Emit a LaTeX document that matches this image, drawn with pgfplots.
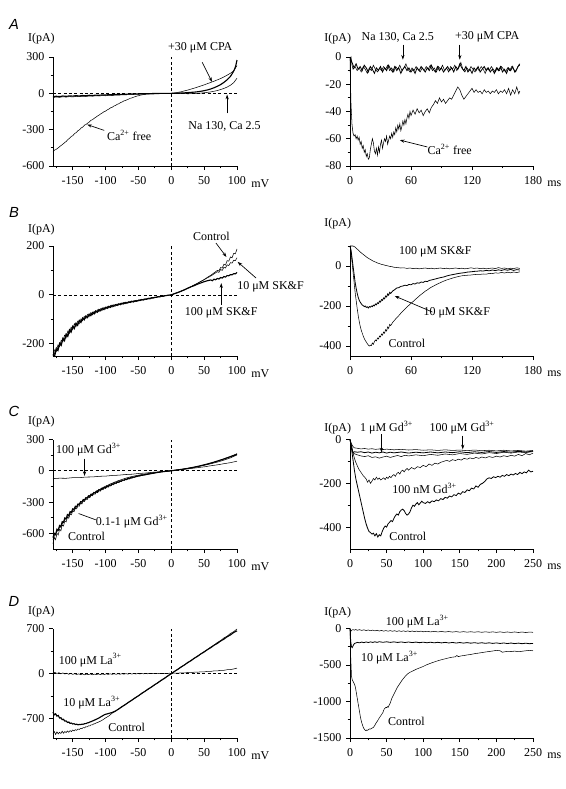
\documentclass[border=0pt]{standalone}
\usepackage{pgfplots}
\pgfplotsset{compat=1.18}
\usepackage{fontspec}
\setmainfont{Liberation Serif}
\newfontfamily\hv{Liberation Sans}
\usetikzlibrary{arrows.meta}
\newcommand\f{\fontsize{9}{10.5}\selectfont}
\pgfplotsset{
 panel/.style={
   scale only axis, anchor=south west,
   axis lines=left, axis line style={-, line width=0.7pt},
   tick align=outside, tick style={black, line width=0.7pt},
   major tick length=3pt, minor tick length=1.8pt,
   clip=false,
   tick label style={font=\f},
   /pgf/number format/assume math mode=true,
   /pgf/number format/1000 sep={},
   cycle list={{black, line width=0.6pt, mark=none}},
   xlabel style={at={(axis description cs:1,0)}, anchor=west, inner sep=0pt, xshift=10.5pt, yshift=-13pt, font=\f},
   xticklabel style={yshift=-1.5pt},
 },
 thick/.style={cycle list={{black, line width=0.85pt, mark=none}}},
 leftp/.style={panel, thick, width=138pt, xmin=-180, xmax=100, xtick={-150,-100,...,100}, minor xtick={-175,-125,...,75}, xlabel={mV}},
 rightp/.style={panel, width=137.25pt, xmin=0, xlabel={ms}},
 dsh/.style={black, line width=0.45pt, dash pattern=on 2.2pt off 1.8pt, mark=none},
}
\tikzset{arr/.style={-{Stealth[length=3.5pt,width=2.4pt]}, line width=0.5pt},
 lb/.style={font=\f, inner sep=0pt}}
\begin{document}
\begin{tikzpicture}
\path[use as bounding box] (0,0) rectangle (423.75pt,-591.75pt);
\node[font=\hv\itshape\fontsize{11}{12}\selectfont] at (10.5pt,-18pt) {A};
\node[font=\hv\itshape\fontsize{11}{12}\selectfont] at (10.5pt,-159pt) {B};
\node[font=\hv\itshape\fontsize{11}{12}\selectfont] at (10.5pt,-308.25pt) {C};
\node[font=\hv\itshape\fontsize{11}{12}\selectfont] at (10.5pt,-450.75pt) {D};

%% ---------------- A left
\begin{axis}[leftp, at={(39.75pt,-124.5pt)}, height=81.75pt, ymin=-600, ymax=300,
  ytick={-600,-300,0,300}, minor ytick={-450,-150,150}]
\addplot[dsh] coordinates {(-180,0)(100,0)};
\addplot[dsh] coordinates {(0,-600)(0,300)};
\addplot coordinates {(-180,-485)(-178,-470)(-175,-462)(-172,-450)(-170,-440)(-167,-428)(-165,-420)(-162,-405)(-160,-398)(-157,-380)(-155,-372)(-152,-355)(-150,-350)(-147,-332)(-145,-325)(-142,-308)(-140,-302)(-137,-285)(-135,-280)(-132,-262)(-130,-258)(-127,-245)(-125,-238)(-122,-222)(-120,-218)(-117,-205)(-115,-198)(-112,-186)(-110,-180)(-107,-168)(-105,-162)(-102,-150)(-100,-147)(-97,-135)(-95,-130)(-92,-118)(-90,-115)(-87,-104)(-85,-100)(-82,-90)(-80,-86)(-77,-76)(-75,-72)(-72,-62)(-70,-60)(-67,-52)(-65,-48)(-62,-40)(-60,-38)(-57,-31)(-55,-28)(-52,-22)(-50,-20)(-47,-15)(-45,-13)(-42,-10)(-40,-8)(-35,-6)(-30,-4)(-25,-3)(-20,-2)(-15,-2)(-10,-1)(-5,-1)(0,0)(5,3)(10,8)(15,13)(20,20)(25,27)(30,35)(35,43)(40,52)(45,61)(50,70)(55,80)(60,90)(65,100)(70,111)(75,122)(80,135)(85,150)(90,166)(95,185)(100,230)};
\addplot coordinates {(-180,-35)(-175,-30)(-170,-33)(-165,-28)(-160,-31)(-155,-27)(-150,-30)(-145,-25)(-140,-28)(-135,-24)(-130,-26)(-125,-22)(-120,-24)(-115,-20)(-110,-22)(-105,-18)(-100,-20)(-95,-16)(-90,-18)(-85,-14)(-80,-15)(-75,-12)(-70,-13)(-65,-10)(-60,-11)(-55,-8)(-50,-8)(-45,-6)(-40,-6)(-35,-4)(-30,-5)(-25,-3)(-20,-3)(-15,-2)(-10,-2)(-5,-1)(0,0)(5,-2)(10,0)(15,-3)(20,-1)(25,-4)(30,-2)(35,-3)(40,0)(45,2)(50,5)(55,8)(60,12)(65,17)(70,23)(75,31)(80,40)(85,52)(90,67)(95,88)(100,125)};
\addplot coordinates {(-180,-28)(-175,-24)(-170,-27)(-165,-22)(-160,-25)(-155,-21)(-150,-23)(-145,-19)(-140,-22)(-135,-18)(-130,-20)(-125,-16)(-120,-18)(-115,-15)(-110,-16)(-105,-13)(-100,-14)(-95,-11)(-90,-12)(-85,-10)(-80,-10)(-75,-8)(-70,-8)(-65,-6)(-60,-6)(-55,-4)(-50,-5)(-45,-3)(-40,-3)(-35,-2)(-30,-2)(-20,-1)(-10,0)(0,0)(5,1)(10,2)(15,3)(20,4)(25,6)(30,8)(35,10)(40,13)(45,17)(50,22)(55,28)(60,36)(65,46)(70,58)(75,72)(80,90)(85,112)(90,140)(93,165)(96,195)(98,225)(100,275)};
\node[lb] at (axis cs:44,374) {+30 μM CPA};
\draw[arr] (axis cs:47,256) -- (axis cs:62,95);
\node[lb] at (axis cs:81,-273) {Na 130, Ca 2.5};
\draw[arr] (axis cs:85,-165) -- (axis cs:85,-10);
\node[lb] at (axis cs:-64,-347) {Ca\textsuperscript{2+} free};
\draw[arr] (axis cs:-102,-306) -- (axis cs:-128,-258);
\node[lb, anchor=east] at ([xshift=1.5pt,yshift=13.5pt]rel axis cs:0,1) {I(pA)};
\end{axis}

%% ---------------- A right
\begin{axis}[rightp, at={(262.5pt,-124.5pt)}, height=81.75pt, xmax=180,
  xtick={0,60,120,180}, minor xtick={30,90,150},
  ymin=-80, ymax=0, ytick={-80,-60,...,0}, minor ytick={-70,-50,-30,-10}]
\addplot coordinates {(0,-2)(1,0)(2,-6)(3,-9)(5,-7)(7,-10)(9,-8)(11,-11)(13,-7)(15,-9)(17,-12)(19,-8)(21,-10)(23,-6)(25,-9)(27,-11)(29,-8)(31,-10)(33,-7)(35,-9)(37,-6)(39,-10)(41,-8)(43,-11)(45,-7)(47,-9)(49,-6)(51,-10)(53,-8)(55,-5)(57,-9)(59,-11)(61,-8)(63,-10)(65,-7)(67,-9)(69,-11)(71,-8)(73,-10)(75,-7)(77,-9)(79,-6)(81,-10)(83,-8)(85,-11)(87,-7)(89,-9)(91,-6)(93,-10)(95,-8)(97,-11)(99,-7)(101,-9)(103,-6)(105,-10)(107,-8)(109,-4)(111,-9)(113,-11)(115,-8)(117,-10)(119,-7)(121,-9)(123,-11)(125,-8)(127,-10)(129,-7)(131,-9)(133,-12)(135,-8)(137,-10)(139,-7)(141,-9)(143,-11)(145,-8)(147,-10)(149,-7)(151,-9)(153,-11)(155,-8)(157,-10)(159,-7)(161,-9)(163,-11)(165,-7)(167,-6)};
\addplot coordinates {(0,-1)(2,-4)(4,-8)(6,-5)(8,-9)(10,-7)(12,-10)(14,-6)(16,-8)(18,-11)(20,-7)(22,-9)(24,-12)(26,-8)(28,-10)(30,-7)(32,-11)(34,-8)(36,-10)(38,-6)(40,-9)(42,-11)(44,-7)(46,-10)(48,-8)(50,-12)(52,-9)(54,-7)(56,-10)(58,-8)(60,-11)(62,-9)(64,-12)(66,-8)(68,-10)(70,-7)(72,-9)(74,-11)(76,-8)(78,-10)(80,-6)(82,-9)(84,-11)(86,-7)(88,-10)(90,-8)(92,-11)(94,-9)(96,-7)(98,-10)(100,-8)(102,-11)(104,-7)(106,-9)(108,-5)(110,-8)(112,-10)(114,-7)(116,-11)(118,-9)(120,-12)(122,-8)(124,-10)(126,-7)(128,-11)(130,-9)(132,-7)(134,-10)(136,-8)(138,-11)(140,-9)(142,-12)(144,-8)(146,-10)(148,-7)(150,-11)(152,-9)(154,-12)(156,-8)(158,-10)(160,-7)(162,-11)(164,-9)(166,-6)(167,-5)};
\addplot coordinates {(0,-2)(0.5,-20)(1,-35)(2,-50)(3,-56)(4,-58)(5,-57)(6,-60)(7,-58)(8,-61)(9,-59)(10,-64)(11,-62)(12,-67)(13,-65)(14,-70)(15,-68)(16,-73)(17,-71)(18,-75)(19,-74)(20,-68)(21,-64)(22,-60)(23,-63)(24,-69)(25,-71)(26,-67)(27,-72)(28,-66)(29,-70)(30,-64)(31,-61)(32,-67)(33,-63)(34,-60)(35,-62)(36,-58)(37,-64)(38,-61)(39,-58)(40,-60)(41,-56)(42,-59)(43,-55)(44,-57)(45,-52)(46,-55)(47,-50)(48,-53)(49,-49)(50,-54)(51,-51)(52,-47)(53,-50)(54,-46)(55,-49)(56,-45)(57,-42)(58,-45)(59,-40)(60,-43)(62,-39)(64,-42)(66,-38)(68,-41)(70,-39)(72,-43)(74,-40)(76,-38)(78,-41)(80,-37)(82,-35)(84,-32)(86,-34)(88,-30)(90,-33)(92,-31)(94,-34)(96,-32)(98,-30)(100,-31)(102,-28)(104,-25)(106,-22)(108,-24)(110,-28)(112,-31)(114,-29)(116,-27)(118,-25)(120,-23)(122,-26)(124,-24)(126,-26)(128,-25)(130,-27)(132,-24)(134,-26)(136,-25)(138,-27)(140,-25)(142,-26)(144,-24)(146,-27)(148,-25)(150,-26)(152,-24)(154,-27)(156,-23)(158,-28)(160,-24)(162,-27)(164,-22)(166,-27)(167,-25)};
\node[lb] at (axis cs:47,14.6) {Na 130, Ca 2.5};
\draw[arr] (axis cs:52,9) -- (axis cs:52,-2);
\node[lb] at (axis cs:135,14.6) {+30 μM CPA};
\draw[arr] (axis cs:108,9) -- (axis cs:108,-2);
\node[lb] at (axis cs:98,-68) {Ca\textsuperscript{2+} free};
\draw[arr] (axis cs:76,-66) -- (axis cs:49,-61);
\node[lb, anchor=east] at ([xshift=1pt,yshift=13.5pt]rel axis cs:0,1) {I(pA)};
\end{axis}

%% ---------------- B left
\begin{axis}[leftp, at={(39.75pt,-267pt)}, height=82.5pt, ymin=-250, ymax=200,
  ytick={-200,0,200}, minor ytick={-100,100}]
\addplot[dsh] coordinates {(-180,0)(100,0)};
\addplot[dsh] coordinates {(0,-250)(0,200)};
\addplot coordinates {(-180,-250)(-177.5,-225)(-175,-232)(-172.5,-205)(-170,-212)(-167.5,-185)(-165,-192)(-162.5,-165)(-160,-175)(-157.5,-148)(-155,-158)(-152.5,-132)(-150,-142)(-147.5,-118)(-145,-130)(-142.5,-108)(-140,-118)(-137.5,-98)(-135,-106)(-132.5,-88)(-130,-97)(-127.5,-80)(-125,-89)(-122.5,-73)(-120,-82)(-117.5,-67)(-115,-75)(-112.5,-61)(-110,-69)(-107.5,-56)(-105,-63)(-102.5,-51)(-100,-58)(-97.5,-47)(-95,-54)(-92.5,-43)(-90,-50)(-87.5,-40)(-85,-46)(-82.5,-37)(-80,-42)(-77.5,-34)(-75,-39)(-72.5,-31)(-70,-36)(-67.5,-29)(-65,-33)(-62.5,-26)(-60,-30)(-57.5,-24)(-55,-28)(-52.5,-22)(-50,-25)(-47.5,-19)(-45,-22)(-42.5,-17)(-40,-20)(-37.5,-15)(-35,-17)(-32.5,-12)(-30,-14)(-27.5,-10)(-25,-12)(-22.5,-8)(-20,-9)(-17.5,-6)(-15,-7)(-12.5,-4)(-10,-5)(-7.5,-2)(-5,-3)(-2.5,0)(0,0)(5,5)(10,9)(15,15)(20,20)(25,27)(30,33)(35,40)(40,47)(45,55)(50,63)(55,72)(60,80)(65,90)(70,100)(72.5,98)(75,112)(77.5,110)(80,125)(82.5,122)(85,140)(87.5,138)(90,155)(92.5,152)(95,170)(97.5,168)(100,188)};
\addplot coordinates {(-180,-235)(-177.5,-240)(-175,-215)(-172.5,-222)(-170,-195)(-167.5,-202)(-165,-175)(-162.5,-182)(-160,-158)(-157.5,-165)(-155,-140)(-152.5,-148)(-150,-126)(-147.5,-134)(-145,-114)(-142.5,-121)(-140,-103)(-137.5,-110)(-135,-93)(-132.5,-100)(-130,-85)(-127.5,-91)(-125,-78)(-122.5,-83)(-120,-71)(-117.5,-76)(-115,-65)(-112.5,-70)(-110,-59)(-107.5,-64)(-105,-54)(-102.5,-59)(-100,-50)(-97.5,-54)(-95,-46)(-92.5,-50)(-90,-42)(-87.5,-46)(-85,-39)(-82.5,-42)(-80,-36)(-77.5,-39)(-75,-33)(-72.5,-36)(-70,-30)(-67.5,-33)(-65,-28)(-62.5,-30)(-60,-25)(-57.5,-28)(-55,-23)(-52.5,-25)(-50,-21)(-47.5,-23)(-45,-18)(-42.5,-20)(-40,-16)(-37.5,-18)(-35,-14)(-32.5,-15)(-30,-11)(-27.5,-12)(-25,-9)(-22.5,-10)(-20,-7)(-17.5,-8)(-15,-5)(-12.5,-5)(-10,-3)(-7.5,-3)(-5,-1)(-2.5,-1)(0,0)(5,6)(10,10)(15,16)(20,21)(25,28)(30,34)(35,41)(40,48)(45,55)(50,62)(55,70)(60,77)(65,86)(70,95)(72.5,92)(75,104)(77.5,100)(80,113)(82.5,110)(85,123)(87.5,120)(90,132)(92.5,130)(95,142)(97.5,140)(100,152)};
\addplot coordinates {(-180,-242)(-177.5,-250)(-175,-222)(-172.5,-228)(-170,-200)(-167.5,-207)(-165,-180)(-162.5,-188)(-160,-162)(-157.5,-170)(-155,-145)(-152.5,-153)(-150,-130)(-147.5,-138)(-145,-117)(-142.5,-125)(-140,-105)(-137.5,-113)(-135,-96)(-132.5,-102)(-130,-87)(-127.5,-93)(-125,-79)(-122.5,-85)(-120,-72)(-117.5,-78)(-115,-66)(-112.5,-71)(-110,-60)(-107.5,-65)(-105,-55)(-102.5,-60)(-100,-51)(-97.5,-55)(-95,-47)(-92.5,-51)(-90,-43)(-87.5,-47)(-85,-40)(-82.5,-43)(-80,-37)(-77.5,-40)(-75,-34)(-72.5,-37)(-70,-31)(-67.5,-34)(-65,-29)(-62.5,-31)(-60,-26)(-57.5,-29)(-55,-24)(-52.5,-26)(-50,-22)(-47.5,-23)(-45,-19)(-42.5,-21)(-40,-17)(-37.5,-18)(-35,-14)(-32.5,-16)(-30,-12)(-27.5,-13)(-25,-10)(-22.5,-10)(-20,-7)(-17.5,-8)(-15,-5)(-12.5,-6)(-10,-3)(-7.5,-3)(-5,-1)(-2.5,-1)(0,0)(5,5)(10,10)(15,15)(20,21)(25,27)(30,33)(35,38)(40,44)(45,49)(50,54)(55,58)(60,61)(62.5,58)(65,64)(67.5,62)(70,67)(72.5,65)(75,71)(77.5,69)(80,75)(82.5,73)(85,79)(87.5,78)(90,83)(92.5,82)(95,87)(97.5,86)(100,92)};
\node[lb] at (axis cs:61,241) {Control};
\draw[arr] (axis cs:68,212) -- (axis cs:84,155);
\node[lb, anchor=west] at (axis cs:100,33) {10 μM SK\&F};
\draw[arr] (axis cs:129,69) -- (axis cs:101,135);
\node[lb] at (axis cs:76,-73) {100 μM SK\&F};
\draw[arr] (axis cs:76,-41) -- (axis cs:76,48);
\node[lb, anchor=east] at ([xshift=1.5pt,yshift=12.5pt]rel axis cs:0,1) {I(pA)};
\end{axis}

%% ---------------- B right
\begin{axis}[rightp, at={(262.5pt,-267pt)}, height=82.5pt, xmax=180,
  xtick={0,60,120,180}, minor xtick={30,90,150},
  ymin=-450, ymax=100, ytick={-400,-200,0}, minor ytick={-300,-100,100}]
\addplot coordinates {(0,100)(3,100)(5,95)(7,85)(9,76)(11,66)(13,58)(15,50)(17,42)(19,36)(21,30)(23,24)(25,20)(27,15)(29,12)(31,8)(33,6)(35,3)(37,1)(39,-2)(41,-3)(43,-6)(45,-7)(47,-8)(50,-10)(53,-9)(56,-12)(59,-10)(62,-13)(65,-11)(68,-14)(71,-12)(74,-10)(77,-13)(80,-11)(83,-14)(86,-12)(89,-10)(92,-13)(95,-11)(98,-14)(101,-12)(104,-10)(107,-13)(110,-11)(113,-14)(116,-12)(119,-9)(122,-12)(125,-10)(128,-13)(131,-11)(134,-14)(137,-12)(140,-10)(143,-13)(146,-8)(149,-12)(152,-10)(155,-14)(158,-11)(161,-13)(164,-9)(167,-12)};
\addplot coordinates {(0,100)(1,80)(2,40)(3,0)(4,-40)(5,-80)(6,-110)(7,-135)(8,-155)(9,-170)(10,-180)(11,-188)(12,-195)(13,-198)(14,-203)(15,-200)(16,-207)(17,-204)(18,-210)(19,-203)(20,-206)(21,-200)(22,-203)(23,-196)(24,-199)(25,-190)(26,-194)(27,-184)(28,-188)(29,-176)(30,-180)(31,-168)(32,-172)(33,-160)(34,-164)(35,-150)(36,-155)(37,-140)(38,-146)(39,-132)(40,-137)(42,-125)(44,-118)(46,-110)(48,-108)(50,-102)(52,-100)(54,-96)(56,-98)(58,-92)(60,-94)(62,-88)(64,-90)(66,-84)(68,-86)(70,-80)(72,-82)(74,-76)(76,-78)(78,-72)(80,-70)(83,-66)(86,-62)(89,-58)(92,-55)(95,-50)(98,-46)(101,-43)(104,-40)(107,-37)(110,-35)(113,-33)(116,-30)(119,-29)(122,-27)(125,-26)(128,-24)(131,-25)(134,-22)(137,-24)(140,-20)(143,-23)(146,-19)(149,-22)(152,-18)(155,-21)(158,-17)(161,-22)(164,-18)(167,-20)};
\addplot coordinates {(0,100)(1,70)(2,20)(3,-30)(4,-80)(5,-130)(6,-170)(7,-210)(8,-245)(9,-275)(10,-300)(11,-320)(12,-335)(13,-350)(14,-362)(15,-372)(16,-380)(17,-388)(18,-395)(19,-400)(20,-396)(21,-398)(22,-385)(23,-392)(24,-378)(25,-370)(26,-375)(27,-360)(28,-365)(29,-350)(30,-355)(31,-340)(32,-346)(33,-330)(34,-336)(35,-318)(36,-325)(37,-305)(38,-312)(39,-292)(40,-298)(42,-282)(44,-270)(46,-258)(48,-248)(50,-236)(52,-226)(54,-215)(56,-205)(58,-196)(60,-186)(62,-178)(64,-168)(66,-160)(68,-150)(70,-142)(72,-134)(74,-126)(76,-120)(78,-112)(80,-106)(83,-98)(86,-90)(89,-83)(92,-76)(95,-70)(98,-65)(101,-60)(104,-56)(107,-52)(110,-49)(113,-47)(116,-46)(119,-45)(122,-43)(125,-42)(128,-42)(131,-40)(134,-41)(137,-37)(140,-38)(143,-34)(146,-36)(149,-32)(152,-35)(155,-31)(158,-34)(161,-30)(164,-33)(167,-29)};
\node[lb] at (axis cs:84,70) {100 μM SK\&F};
\node[lb] at (axis cs:105,-235) {10 μM SK\&F};
\draw[arr] (axis cs:81,-230) -- (axis cs:44,-150);
\node[lb] at (axis cs:56,-385) {Control};
\node[lb, anchor=east] at ([xshift=1pt,yshift=17pt]rel axis cs:0,1) {I(pA)};
\end{axis}

%% ---------------- C left
\begin{axis}[leftp, at={(39.75pt,-411.75pt)}, height=82.125pt, ymin=-750, ymax=300,
  ytick={-600,-300,0,300}, minor ytick={-450,-150,150}]
\addplot[dsh] coordinates {(-180,0)(100,0)};
\addplot[dsh] coordinates {(0,-750)(0,300)};
\addplot coordinates {(-180,-75)(-170,-71)(-160,-72)(-150,-66)(-140,-66)(-130,-60)(-120,-59)(-110,-53)(-100,-51)(-90,-45)(-80,-42)(-70,-36)(-60,-33)(-50,-26)(-40,-22)(-30,-15)(-20,-11)(-10,-4)(0,0)(10,8)(20,15)(30,22)(40,30)(50,38)(60,48)(70,57)(80,68)(90,78)(100,92)};
\addplot coordinates {(-180,-700)(-178,-640)(-176,-660)(-174,-600)(-172,-615)(-170,-560)(-168,-575)(-166,-520)(-164,-530)(-162,-480)(-160,-490)(-158,-445)(-156,-455)(-154,-415)(-152,-422)(-150,-385)(-148,-392)(-146,-360)(-144,-365)(-142,-335)(-140,-340)(-138,-310)(-136,-318)(-134,-290)(-132,-295)(-130,-270)(-128,-276)(-126,-252)(-124,-258)(-122,-236)(-120,-240)(-118,-220)(-116,-225)(-114,-205)(-112,-210)(-110,-190)(-108,-196)(-106,-178)(-104,-182)(-102,-165)(-100,-170)(-98,-153)(-96,-158)(-94,-142)(-92,-146)(-90,-131)(-88,-135)(-86,-121)(-84,-124)(-82,-111)(-80,-114)(-78,-102)(-76,-104)(-74,-93)(-72,-95)(-70,-85)(-68,-87)(-66,-77)(-64,-79)(-62,-70)(-60,-71)(-58,-63)(-56,-64)(-54,-57)(-52,-57)(-50,-51)(-48,-51)(-46,-46)(-44,-45)(-42,-41)(-40,-40)(-36,-35)(-32,-30)(-28,-25)(-24,-20)(-20,-16)(-16,-12)(-12,-9)(-8,-6)(-4,-3)(0,0)(5,4)(10,8)(15,12)(20,17)(25,22)(30,28)(35,34)(40,41)(45,48)(50,56)(55,64)(60,73)(65,82)(70,92)(75,103)(80,114)(85,126)(90,138)(95,150)(100,165)};
\addplot coordinates {(-180,-640)(-178,-600)(-176,-612)(-174,-560)(-172,-570)(-170,-525)(-168,-535)(-166,-488)(-164,-495)(-162,-452)(-160,-460)(-158,-420)(-156,-428)(-154,-392)(-152,-398)(-150,-365)(-148,-370)(-146,-340)(-144,-346)(-142,-318)(-140,-322)(-138,-296)(-136,-300)(-134,-276)(-132,-281)(-130,-258)(-128,-262)(-126,-240)(-124,-245)(-122,-224)(-120,-229)(-118,-209)(-116,-214)(-114,-195)(-112,-199)(-110,-181)(-108,-186)(-106,-169)(-104,-173)(-102,-157)(-100,-161)(-98,-146)(-96,-150)(-94,-135)(-92,-139)(-90,-125)(-88,-128)(-86,-115)(-84,-118)(-82,-106)(-80,-108)(-78,-97)(-76,-99)(-74,-89)(-72,-90)(-70,-81)(-68,-82)(-66,-73)(-64,-75)(-62,-66)(-60,-68)(-58,-60)(-56,-61)(-54,-54)(-52,-54)(-50,-48)(-48,-48)(-46,-43)(-44,-43)(-42,-39)(-40,-38)(-36,-33)(-32,-28)(-28,-24)(-24,-19)(-20,-15)(-16,-11)(-12,-8)(-8,-5)(-4,-2)(0,0)(5,5)(10,9)(15,13)(20,18)(25,23)(30,29)(35,35)(40,42)(45,49)(50,57)(55,65)(60,74)(65,83)(70,93)(75,103)(80,113)(85,124)(90,135)(95,146)(100,158)};
\addplot coordinates {(-180,-660)(-177,-610)(-174,-585)(-171,-545)(-168,-540)(-165,-495)(-162,-470)(-159,-450)(-156,-430)(-153,-400)(-150,-385)(-147,-360)(-144,-345)(-141,-322)(-138,-308)(-135,-290)(-132,-277)(-129,-260)(-126,-248)(-123,-232)(-120,-222)(-117,-207)(-114,-198)(-111,-184)(-108,-175)(-105,-163)(-102,-155)(-99,-144)(-96,-137)(-93,-126)(-90,-120)(-87,-110)(-84,-104)(-81,-95)(-78,-90)(-75,-82)(-72,-77)(-69,-70)(-66,-65)(-63,-60)(-60,-55)(-57,-51)(-54,-47)(-51,-43)(-48,-40)(-45,-36)(-42,-33)(-39,-30)(-36,-27)(-33,-24)(-30,-21)(-25,-17)(-20,-13)(-15,-9)(-10,-6)(-5,-3)(0,0)(10,9)(20,18)(30,29)(40,40)(50,53)(60,67)(70,83)(80,102)(90,124)(100,152)};
\node[lb] at (axis cs:-126,203) {100 μM Gd\textsuperscript{3+}};
\draw[arr] (axis cs:-132,116) -- (axis cs:-132,-50);
\node[lb] at (axis cs:-60,-484) {0.1-1 μM Gd\textsuperscript{3+}};
\draw[line width=0.5pt] (axis cs:-115,-470) -- (axis cs:-141,-410);
\node[lb] at (axis cs:-129,-629) {Control};
\node[lb, anchor=east] at ([xshift=1.5pt,yshift=13.5pt]rel axis cs:0,1) {I(pA)};
\end{axis}

%% ---------------- C right
\begin{axis}[rightp, at={(262.5pt,-411.75pt)}, height=82.125pt, xmax=250,
  xtick={0,50,...,250}, minor xtick={25,75,...,225},
  ymin=-500, ymax=0, ytick={-400,-200,0}, minor ytick={-300,-100}]
\addplot coordinates {(0,0)(2,-20)(4,-32)(6,-38)(10,-40)(15,-43)(20,-41)(25,-44)(30,-42)(35,-45)(40,-43)(45,-46)(50,-44)(60,-47)(70,-45)(80,-48)(90,-46)(100,-49)(110,-47)(120,-50)(130,-47)(140,-50)(150,-48)(160,-51)(170,-48)(180,-51)(190,-49)(200,-52)(210,-49)(220,-52)(230,-50)(240,-53)(250,-50)};
\addplot coordinates {(0,0)(2,-30)(4,-60)(6,-56)(10,-58)(15,-56)(20,-60)(25,-57)(30,-62)(35,-58)(40,-61)(45,-57)(50,-62)(55,-58)(60,-61)(70,-57)(80,-62)(90,-58)(100,-61)(110,-57)(120,-61)(130,-57)(140,-60)(150,-56)(160,-60)(170,-56)(180,-59)(190,-55)(200,-59)(210,-55)(220,-58)(230,-54)(240,-57)(250,-53)};
\addplot coordinates {(0,0)(2,-40)(4,-60)(6,-65)(10,-70)(15,-75)(20,-78)(25,-74)(30,-82)(35,-79)(40,-85)(45,-80)(50,-76)(55,-82)(60,-77)(65,-73)(70,-78)(75,-72)(80,-75)(90,-70)(100,-74)(110,-68)(120,-72)(130,-66)(140,-70)(150,-64)(160,-68)(170,-62)(180,-66)(190,-60)(200,-64)(210,-58)(220,-62)(230,-57)(240,-60)(250,-55)};
\addplot coordinates {(0,0)(2,-30)(4,-60)(6,-85)(8,-105)(10,-120)(12,-135)(14,-145)(16,-155)(18,-165)(20,-172)(22,-180)(24,-195)(26,-185)(28,-200)(30,-190)(32,-178)(34,-185)(36,-172)(38,-182)(40,-176)(42,-185)(44,-180)(46,-175)(48,-183)(50,-172)(52,-178)(54,-168)(56,-174)(58,-165)(60,-160)(62,-168)(64,-155)(66,-150)(68,-158)(70,-145)(72,-140)(74,-148)(76,-138)(78,-132)(80,-140)(84,-128)(88,-135)(92,-124)(96,-128)(100,-118)(104,-124)(108,-112)(112,-118)(116,-108)(120,-112)(124,-104)(128,-100)(132,-95)(136,-100)(140,-92)(144,-96)(148,-90)(152,-94)(156,-86)(160,-90)(164,-84)(168,-88)(172,-82)(176,-86)(180,-80)(185,-84)(190,-78)(195,-82)(200,-76)(205,-80)(210,-74)(215,-78)(220,-72)(225,-76)(230,-68)(235,-74)(240,-64)(245,-70)(250,-62)};
\addplot coordinates {(0,0)(2,-40)(4,-90)(6,-140)(8,-180)(10,-210)(12,-240)(14,-270)(16,-300)(18,-330)(20,-360)(22,-385)(24,-405)(26,-420)(28,-425)(30,-432)(32,-428)(34,-440)(36,-430)(38,-445)(40,-435)(42,-440)(44,-420)(46,-405)(48,-395)(50,-400)(52,-385)(54,-378)(56,-370)(58,-375)(60,-360)(62,-348)(64,-340)(66,-345)(68,-330)(70,-322)(72,-318)(74,-325)(76,-338)(78,-345)(80,-340)(82,-330)(84,-312)(86,-300)(88,-305)(90,-295)(92,-288)(94,-298)(96,-290)(98,-282)(100,-288)(103,-292)(106,-284)(109,-290)(112,-280)(115,-284)(118,-276)(121,-280)(124,-270)(127,-274)(130,-264)(133,-268)(136,-258)(139,-262)(142,-252)(145,-256)(148,-245)(151,-250)(154,-238)(157,-242)(160,-230)(163,-234)(166,-222)(169,-226)(172,-212)(175,-218)(178,-205)(181,-200)(184,-192)(187,-180)(190,-175)(193,-178)(196,-170)(199,-174)(202,-168)(205,-172)(208,-164)(211,-168)(214,-160)(217,-165)(220,-158)(223,-162)(226,-155)(229,-160)(232,-150)(235,-156)(238,-148)(241,-152)(244,-140)(247,-148)(250,-145)};
\node[lb] at (axis cs:50,55) {1 μM Gd\textsuperscript{3+}};
\draw[arr] (axis cs:43,23) -- (axis cs:43,-59);
\node[lb] at (axis cs:153,55) {100 μM Gd\textsuperscript{3+}};
\draw[arr] (axis cs:154,18) -- (axis cs:154,-45);
\node[lb] at (axis cs:102,-223) {100 nM Gd\textsuperscript{3+}};
\node[lb] at (axis cs:79,-441) {Control};
\node[lb, anchor=east] at ([xshift=1pt,yshift=8.5pt]rel axis cs:0,1) {I(pA)};
\end{axis}

%% ---------------- D left
\begin{axis}[leftp, at={(39.75pt,-553.5pt)}, height=82.125pt, ymin=-1000, ymax=700,
  ytick={-700,0,700}, minor ytick={-350,350}]
\addplot[dsh] coordinates {(-180,0)(100,0)};
\addplot[dsh] coordinates {(0,-1000)(0,700)};
\addplot coordinates {(-180,8)(-177,18)(-174,2)(-171,14)(-168,-4)(-165,10)(-162,-6)(-159,6)(-156,-10)(-153,2)(-150,-12)(-147,-2)(-144,-14)(-141,-4)(-138,-16)(-135,-6)(-132,-18)(-129,-8)(-126,-16)(-123,-6)(-120,-18)(-117,-8)(-114,-16)(-111,-6)(-108,-15)(-105,-5)(-102,-14)(-99,-4)(-96,-13)(-93,-3)(-90,-12)(-87,-2)(-84,-11)(-81,-2)(-78,-10)(-75,-1)(-72,-9)(-69,0)(-66,-8)(-63,1)(-60,-7)(-57,1)(-54,-6)(-51,2)(-48,-5)(-45,2)(-42,-4)(-39,3)(-36,-3)(-33,3)(-30,-2)(-27,4)(-24,-1)(-21,4)(-18,0)(-15,5)(-12,1)(-9,5)(-6,2)(-3,6)(0,3)(5,8)(10,6)(15,12)(20,10)(25,17)(30,15)(35,22)(40,21)(45,28)(50,27)(55,34)(60,34)(65,42)(70,42)(75,50)(80,51)(85,60)(90,62)(95,72)(100,85)};
\addplot coordinates {(-180,-930)(-178,-900)(-176,-945)(-174,-905)(-172,-935)(-170,-910)(-168,-930)(-166,-895)(-164,-925)(-162,-900)(-160,-915)(-158,-890)(-156,-910)(-154,-885)(-152,-900)(-150,-875)(-148,-890)(-146,-870)(-144,-880)(-142,-860)(-140,-868)(-138,-850)(-136,-855)(-134,-838)(-132,-842)(-130,-825)(-128,-828)(-126,-810)(-124,-812)(-122,-795)(-120,-796)(-118,-780)(-116,-778)(-114,-764)(-112,-760)(-110,-748)(-108,-740)(-106,-728)(-104,-716)(-102,-702)(-100,-688)(-95,-658)(-90,-614)(-85,-588)(-80,-545)(-75,-519)(-70,-477)(-65,-450)(-60,-408)(-55,-382)(-50,-340)(-45,-313)(-40,-271)(-35,-245)(-30,-203)(-25,-176)(-20,-134)(-15,-108)(-10,-66)(-5,-39)(0,0)(5,30)(10,71)(15,98)(20,139)(25,166)(30,207)(35,234)(40,275)(45,302)(50,343)(55,370)(60,413)(65,441)(70,483)(75,511)(80,553)(85,581)(90,623)(95,651)(100,693)};
\addplot coordinates {(-180,-600)(-178,-640)(-176,-625)(-174,-660)(-172,-650)(-170,-690)(-168,-685)(-166,-715)(-164,-710)(-162,-738)(-160,-735)(-158,-758)(-156,-752)(-154,-772)(-152,-768)(-150,-782)(-148,-778)(-146,-790)(-144,-785)(-142,-795)(-140,-790)(-138,-792)(-136,-785)(-134,-786)(-132,-778)(-130,-776)(-128,-766)(-126,-762)(-124,-752)(-122,-746)(-120,-736)(-118,-728)(-116,-718)(-114,-708)(-112,-698)(-110,-688)(-108,-676)(-106,-664)(-104,-652)(-102,-640)(-100,-632)(-95,-618)(-90,-604)(-85,-580)(-80,-550)(-75,-512)(-70,-482)(-65,-444)(-60,-414)(-55,-375)(-50,-346)(-45,-306)(-40,-276)(-35,-238)(-30,-208)(-25,-170)(-20,-140)(-15,-101)(-10,-72)(-5,-32)(0,-3)(5,36)(10,66)(15,104)(20,133)(25,172)(30,200)(35,240)(40,268)(45,307)(50,335)(55,373)(60,402)(65,440)(70,468)(75,506)(80,534)(85,572)(90,600)(95,638)(100,665)};
\node[lb] at (axis cs:-123,209) {100 μM La\textsuperscript{3+}};
\node[lb] at (axis cs:-121,-450) {10 μM La\textsuperscript{3+}};
\node[lb] at (axis cs:-68,-842) {Control};
\node[lb, anchor=east] at ([xshift=1.5pt,yshift=12.5pt]rel axis cs:0,1) {I(pA)};
\end{axis}

%% ---------------- D right
\begin{axis}[rightp, at={(262.5pt,-553.5pt)}, height=82.125pt, xmax=250,
  xtick={0,50,...,250}, minor xtick={25,75,...,225},
  ymin=-1500, ymax=0, ytick={-1500,-1000,-500,0}, minor ytick={-1250,-750,-250}]
\addplot coordinates {(0,0)(1,-40)(2,-25)(4,-15)(6,-22)(8,-14)(10,-24)(13,-16)(16,-26)(19,-18)(22,-28)(25,-20)(28,-30)(31,-22)(34,-32)(37,-24)(40,-34)(43,-26)(46,-36)(49,-28)(52,-37)(55,-29)(58,-38)(61,-30)(64,-40)(67,-31)(70,-40)(73,-32)(76,-41)(79,-33)(82,-42)(85,-34)(88,-43)(91,-35)(94,-44)(97,-36)(100,-45)(105,-38)(110,-46)(115,-39)(120,-47)(125,-40)(130,-48)(135,-41)(140,-49)(145,-42)(150,-50)(155,-43)(160,-50)(165,-44)(170,-51)(175,-44)(180,-52)(185,-45)(190,-52)(195,-46)(200,-53)(205,-46)(210,-54)(215,-47)(220,-54)(225,-47)(230,-55)(235,-48)(240,-55)(245,-49)(250,-52)};
\addplot coordinates {(0,0)(1,-180)(2,-250)(3,-262)(4,-240)(5,-222)(6,-205)(8,-198)(10,-190)(13,-196)(16,-186)(19,-194)(22,-184)(25,-192)(28,-183)(31,-191)(34,-182)(37,-190)(40,-181)(45,-189)(50,-182)(55,-190)(60,-183)(65,-191)(70,-184)(75,-192)(80,-185)(85,-193)(90,-186)(95,-194)(100,-187)(105,-195)(110,-188)(115,-196)(120,-189)(125,-197)(130,-190)(135,-198)(140,-191)(145,-199)(150,-192)(155,-200)(160,-193)(165,-201)(170,-194)(175,-202)(180,-195)(185,-203)(190,-196)(195,-204)(200,-197)(205,-205)(210,-198)(215,-206)(220,-199)(225,-207)(230,-200)(235,-208)(240,-201)(245,-208)(250,-204)};
\addplot coordinates {(0,0)(1,-400)(2,-650)(3,-700)(4,-720)(5,-740)(6,-760)(7,-790)(8,-840)(9,-900)(10,-960)(11,-1020)(12,-1080)(13,-1140)(14,-1200)(15,-1250)(16,-1290)(17,-1320)(18,-1350)(19,-1370)(20,-1385)(21,-1395)(22,-1400)(23,-1390)(24,-1395)(25,-1385)(26,-1380)(27,-1375)(28,-1378)(29,-1370)(30,-1365)(31,-1360)(32,-1355)(33,-1340)(34,-1325)(35,-1305)(36,-1290)(37,-1275)(38,-1260)(39,-1240)(40,-1225)(41,-1210)(42,-1195)(43,-1180)(44,-1165)(45,-1150)(46,-1120)(47,-1100)(48,-1090)(49,-1080)(50,-1085)(51,-1070)(52,-1080)(53,-1060)(54,-1040)(55,-1020)(57,-960)(59,-920)(61,-880)(63,-840)(65,-800)(67,-770)(69,-740)(71,-710)(73,-685)(75,-660)(77,-640)(79,-620)(81,-605)(83,-595)(86,-580)(90,-560)(95,-540)(100,-520)(104,-500)(109,-480)(114,-462)(119,-445)(124,-430)(128,-420)(132,-410)(136,-400)(140,-392)(144,-388)(146,-370)(148,-385)(152,-375)(156,-370)(160,-362)(165,-355)(170,-345)(175,-338)(180,-330)(185,-322)(190,-315)(195,-308)(200,-300)(205,-305)(208,-325)(212,-318)(216,-312)(220,-315)(225,-310)(230,-318)(235,-312)(240,-305)(245,-300)(250,-305)};
\node[lb] at (axis cs:92,100) {100 μM La\textsuperscript{3+}};
\node[lb] at (axis cs:54,-405) {10 μM La\textsuperscript{3+}};
\node[lb] at (axis cs:77,-1275) {Control};
\node[lb, anchor=east] at ([xshift=1pt,yshift=12pt]rel axis cs:0,1) {I(pA)};
\end{axis}
\end{tikzpicture}
\end{document}
